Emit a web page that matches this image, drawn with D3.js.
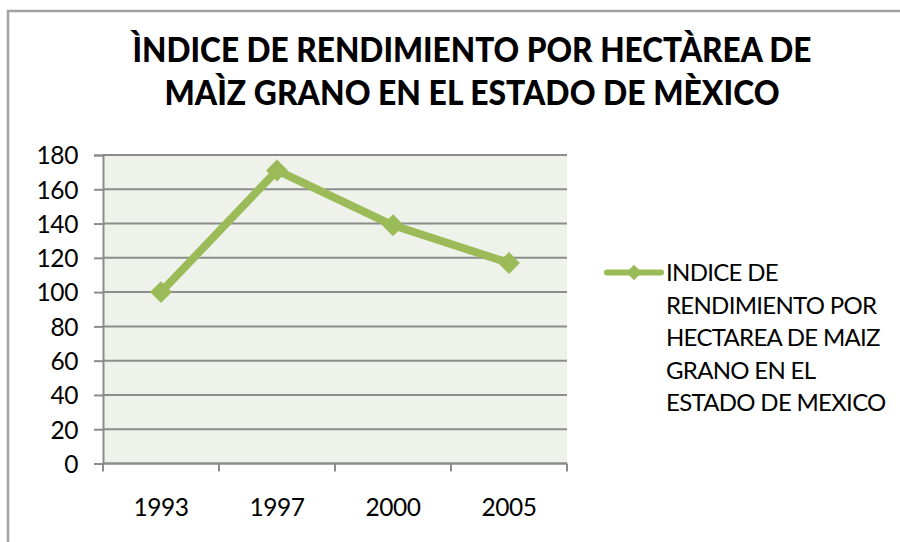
<!DOCTYPE html>
<html>
<head>
<meta charset="utf-8">
<script src="https://cdn.jsdelivr.net/npm/d3@7"></script>
<style>
  body { margin: 0; background: #fff; }
  svg text { font-family: Lato, "Open Sans", sans-serif; fill: #000; }
</style>
</head>
<body>
<script>
// data
var years = ["1993", "1997", "2000", "2005"];
var indice = [100, 171, 139, 117];
var yTicks = [0, 20, 40, 60, 80, 100, 120, 140, 160, 180];
var titleLines = ["ÌNDICE DE RENDIMIENTO POR HECTÀREA DE", "MAÌZ GRANO EN EL ESTADO DE MÈXICO"];
var legendLines = ["INDICE DE", "RENDIMIENTO POR", "HECTAREA DE MAIZ", "GRANO EN EL", "ESTADO DE MEXICO"];

var width = 900, height = 542;
var plot = {left: 103, right: 567, top: 155, bottom: 463.5};
var green = "#9bbb59";

var svg = d3.select("body").append("svg")
  .attr("width", width)
  .attr("height", height);

// chart frame (runs off the right and bottom edge)
svg.append("rect")
  .attr("x", 8).attr("y", 11)
  .attr("width", 1000).attr("height", 1000)
  .attr("fill", "#fff")
  .attr("stroke", "#a3a3a3")
  .attr("stroke-width", 2.5);

// title
svg.selectAll(".title")
  .data(titleLines)
  .enter().append("text")
  .attr("class", "title")
  .attr("x", 472)
  .attr("y", function(d, i) { return 62 + i * 43; })
  .attr("text-anchor", "middle")
  .attr("textLength", function(d, i) { return i == 0 ? 679 : 615; })
  .attr("lengthAdjust", "spacingAndGlyphs")
  .style("font-size", "33.5px")
  .style("font-weight", "900")
  .text(function(d) { return d; });

var x = d3.scaleBand().domain(years).range([plot.left, plot.right]).padding(0);
var y = d3.scaleLinear().domain([0, 180]).range([plot.bottom, plot.top]);

svg.append("rect")
  .attr("x", plot.left).attr("y", plot.top)
  .attr("width", plot.right - plot.left)
  .attr("height", plot.bottom - plot.top)
  .attr("fill", "#eff2ea");

// gridlines
svg.append("g")
  .selectAll("line")
  .data(yTicks)
  .enter().append("line")
  .attr("x1", plot.left).attr("x2", plot.right)
  .attr("y1", function(d) { return y(d); })
  .attr("y2", function(d) { return y(d); })
  .attr("stroke", "#8c8c8c")
  .attr("stroke-width", 2);

// y axis
var yAxis = svg.append("g")
  .attr("transform", "translate(" + plot.left + ",0)")
  .call(d3.axisLeft(y).tickValues(yTicks).tickSize(9).tickPadding(16));
yAxis.selectAll("line").attr("stroke", "#8c8c8c").attr("stroke-width", 2);
yAxis.select(".domain").attr("stroke", "#8c8c8c").attr("stroke-width", 2);
yAxis.selectAll("text")
  .style("font-family", "Lato, sans-serif")
  .style("font-size", "24.5px")
  .style("letter-spacing", "-0.4px")
  .attr("fill", "#000")
  .attr("dy", "0.36em");

// x axis: ticks on category boundaries, labels in the middle
var xAxis = svg.append("g")
  .attr("transform", "translate(0," + plot.bottom + ")");
xAxis.append("line")
  .attr("x1", plot.left).attr("x2", plot.right)
  .attr("stroke", "#8c8c8c").attr("stroke-width", 2);
var edges = years.map(function(d) { return x(d); }).concat([x(years[years.length - 1]) + x.bandwidth()]);
xAxis.selectAll(".tick")
  .data(edges)
  .enter().append("line")
  .attr("x1", function(d) { return d; })
  .attr("x2", function(d) { return d; })
  .attr("y1", 0).attr("y2", 8)
  .attr("stroke", "#8c8c8c").attr("stroke-width", 2);
xAxis.selectAll("text")
  .data(years)
  .enter().append("text")
  .attr("x", function(d) { return x(d) + x.bandwidth() / 2; })
  .attr("y", 52)
  .attr("text-anchor", "middle")
  .style("font-size", "24.5px")
  .style("letter-spacing", "-0.4px")
  .text(function(d) { return d; });

// series
var pts = years.map(function(d, i) { return [x(d) + x.bandwidth() / 2, y(indice[i])]; });
svg.append("path")
  .attr("d", d3.line()(pts))
  .attr("fill", "none")
  .attr("stroke", green)
  .attr("stroke-width", 8)
  .attr("stroke-linejoin", "round");

var diamond = d3.symbol().type(d3.symbolSquare).size(240);
svg.append("g")
  .selectAll("path")
  .data(pts)
  .enter().append("path")
  .attr("d", diamond)
  .attr("transform", function(d) { return "translate(" + d[0] + "," + d[1] + ") rotate(45)"; })
  .attr("fill", green);

// legend
var legend = svg.append("g");
legend.append("line")
  .attr("x1", 607).attr("x2", 661)
  .attr("y1", 272.5).attr("y2", 272.5)
  .attr("stroke", green)
  .attr("stroke-width", 6)
  .attr("stroke-linecap", "round");
legend.append("path")
  .attr("d", d3.symbol().type(d3.symbolSquare).size(120))
  .attr("transform", "translate(634,272.5) rotate(45)")
  .attr("fill", green);
legend.selectAll("text")
  .data(legendLines)
  .enter().append("text")
  .attr("x", 666)
  .attr("y", function(d, i) { return 281 + i * 32.6; })
  .style("font-size", "24px")
  .style("letter-spacing", "-0.7px")
  .text(function(d) { return d; });
</script>
</body>
</html>
